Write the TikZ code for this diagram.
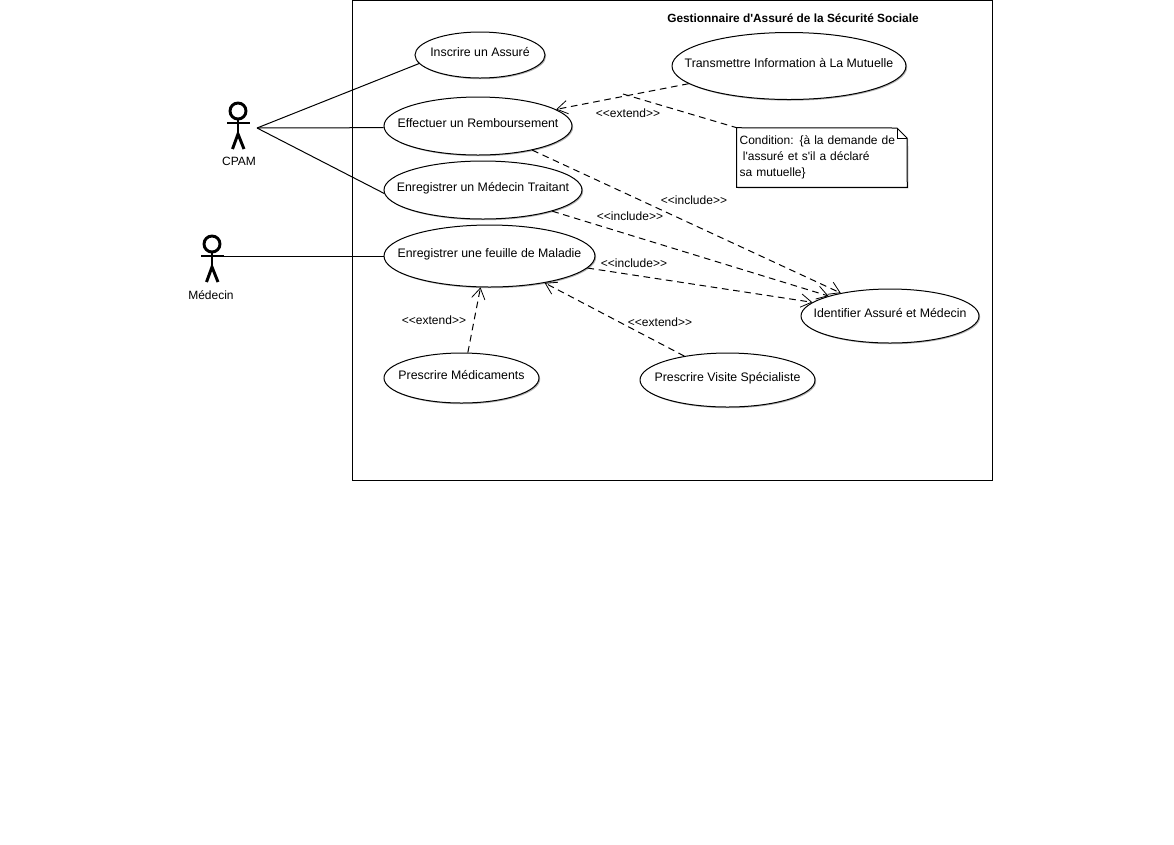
\documentclass[tikz,border=0pt]{standalone}
\usepackage{fontspec}
\setmainfont{Liberation Sans}
\usetikzlibrary{positioning}
\usetikzlibrary{shapes.geometric}
\usetikzlibrary{shadows}
\usetikzlibrary{arrows.meta}
\newcommand{\uctext}[1]{\makebox[0pt]{\fontsize{9.25}{12}\selectfont #1}}
\tikzset{
 usecase/.style={ellipse,draw,fill=white,line width=0.75pt,inner sep=0pt,text height=6.5pt,text depth=5pt,
  drop shadow={shadow xshift=0.9pt,shadow yshift=-0.9pt,opacity=0.3,fill=black}},
 assoc/.style={line width=0.75pt},
 depend/.style={line width=0.75pt,dash pattern=on 5pt off 3.5pt,-{Straight Barb[length=8pt,width=10pt,line width=0.6pt]}},
 actorhead/.style={circle,draw,line width=2.2pt,minimum size=12pt,inner sep=0pt},
 actorline/.style={line width=2.2pt},
 stereo/.style={inner sep=0pt}
}
\begin{document}
\begin{tikzpicture}[x=0.75pt,y=-0.75pt,font=\fontsize{9}{12}\selectfont]
 \useasboundingbox[fill=white](0,0) rectangle (1174,844);
 % system frame
 \draw[line width=0.75pt](352.5,0.5) rectangle (992.5,480.5);
 \node[inner sep=0pt,font=\fontsize{8.9}{12}\selectfont\bfseries] (title) at (793,18) {Gestionnaire d\textquotesingle Assuré de la Sécurité Sociale};
 % actors
 \node[actorhead] (cpamhead) at (238,111) {};
 \draw[actorline](cpamhead.south)--(238,135);
 \draw[actorline](227,123)--(250,123);
 \draw[actorline](232.5,149)--(238,134)--(244,149);
 \node[inner sep=0pt] (cpamlabel) at (239,161) {CPAM};
 \coordinate (cpam) at (257,128);
 \node[actorhead] (medecinhead) at (212,244) {};
 \draw[actorline](medecinhead.south)--(212,268);
 \draw[actorline](201,256)--(224,256);
 \draw[actorline](206.5,282)--(212,267)--(218,282);
 \node[inner sep=0pt] (medecinlabel) at (211,295) {Médecin};
 \coordinate (medecin) at (224,256);
 % use cases
 \node[usecase,minimum width=97.5pt,minimum height=34.5pt] (inscrire) at (480,55) {\uctext{Inscrire un Assuré}};
 \node[usecase,minimum width=141pt,minimum height=43.5pt] (effectuer) at (478,126) {\uctext{Effectuer un Remboursement}};
 \node[usecase,minimum width=148.5pt,minimum height=43.5pt] (traitant) at (483,190) {\uctext{Enregistrer un Médecin Traitant}};
 \node[usecase,minimum width=158.25pt,minimum height=46.5pt] (feuille) at (489.5,256) {\uctext{Enregistrer une feuille de Maladie}};
 \node[usecase,minimum width=175.5pt,minimum height=50.25pt] (transmettre) at (789,66) {\uctext{Transmettre Information à La Mutuelle}};
 \node[usecase,minimum width=133.5pt,minimum height=40.5pt] (identifier) at (890,316) {\uctext{Identifier Assuré et Médecin}};
 \node[usecase,minimum width=116.25pt,minimum height=37.5pt] (medicaments) at (461.5,378) {\uctext{Prescrire Médicaments}};
 \node[usecase,minimum width=131.25pt,minimum height=40.5pt] (visite) at (727.5,380) {\uctext{Prescrire Visite Spécialiste}};
 % associations
 \draw[assoc](cpam)--(inscrire.188);
 \draw[assoc](cpam)--(effectuer.181);
 \draw[assoc](cpam)--(traitant.182);
 \draw[assoc](medecin)--(feuille.west);
 % dependencies
 \draw[depend](transmettre.190.6)--(effectuer.12);
 \draw[depend](effectuer.-24)--(identifier.155);
 \draw[depend](traitant.-17)--(identifier.162.6);
 \draw[depend](feuille.-7.6)--(identifier.170.3);
 \draw[depend](medicaments.76.5)--(feuille.-106);
 \draw[depend](visite.151.7)--(feuille.-26.6);
 \node[stereo] (extendtransmettre) at (628,113) {<{}<extend>{}>};
 \node[stereo] (includeeffectuer) at (694,200) {<{}<include>{}>};
 \node[stereo] (includetraitant) at (630,216) {<{}<include>{}>};
 \node[stereo] (includefeuille) at (634,263) {<{}<include>{}>};
 \node[stereo] (extendmedicaments) at (434,320) {<{}<extend>{}>};
 \node[stereo] (extendvisite) at (660,322) {<{}<extend>{}>};
 % note
 \node[minimum width=127.5pt,minimum height=44.25pt,inner sep=0pt] (note) at (822,157.5) {};
 \coordinate (condition) at (623,94);
 \draw[line width=0.75pt,dash pattern=on 5pt off 3.5pt](condition)--(note.north west);
 \draw[line width=0.75pt,fill=white,drop shadow={shadow xshift=0.9pt,shadow yshift=-0.9pt,opacity=0.3,fill=black}]
  (note.north west)--(897,128)--(907,138)--(note.south east)--(note.south west)--cycle;
 \draw[line width=0.75pt](897,128)--(897,138)--(907,138);
 \node[inner sep=0pt,text width=125pt,align=left,xshift=0.7pt] (notetext) at (note) {Condition: \{à la demande de\\\hspace*{2.5pt}l\textquotesingle assuré et s\textquotesingle il a déclaré\\sa mutuelle\}};
\end{tikzpicture}
\end{document}
